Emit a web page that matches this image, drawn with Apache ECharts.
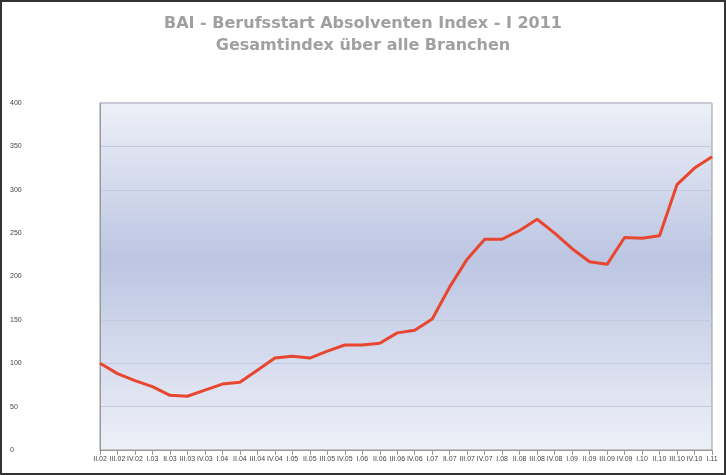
<!DOCTYPE html>
<html><head><meta charset="utf-8">
<script src="https://cdn.jsdelivr.net/npm/echarts@6/dist/echarts.min.js"></script>
<style>html,body{margin:0;padding:0;background:#fff}#c{width:726px;height:475px;box-sizing:border-box;border:2px solid #333}</style>
</head><body><div id="c"></div>
<script>
const categories = ["II.02","III.02","IV.02","I.03","II.03","III.03","IV.03","I.04","II.04","III.04","IV.04","I.05","II.05","III.05","IV.05","I.06","II.06","III.06","IV.06","I.07","II.07","III.07","IV.07","I.08","II.08","III.08","IV.08","I.09","II.09","III.09","IV.09","I.10","II.10","III.10","IV.10","I.11"];
const values = [100,88,80,73,63,62,69,76,78,92,106,108,106,114,121,121,123,135,138,151,188,220,243,243,253,266,250,232,217,214,245,244,247,306,325,338];
const yTicks = {min:0,max:400,interval:50};
const chart = echarts.init(document.getElementById('c'));
chart.setOption({
  animation:false,
  title:{text:'BAI - Berufsstart Absolventen Index - I 2011\nGesamtindex über alle Branchen',left:'center',top:6,
    textStyle:{color:'#a0a0a0',fontSize:16,fontWeight:'bold',lineHeight:22,fontFamily:'DejaVu Sans'}},
  grid:{left:98,right:12,top:101,bottom:23,
    show:true,borderColor:'#999',borderWidth:1,
    backgroundColor:{type:'linear',x:0,y:0,x2:0,y2:1,colorStops:[{offset:0,color:'#eef0f8'},{offset:0.45,color:'#bcc6e3'},{offset:1,color:'#eef0f8'}]}},
  xAxis:{type:'category',data:categories,boundaryGap:false,
    axisLine:{lineStyle:{color:'#999'}},axisTick:{show:true,lineStyle:{color:'#999'}},
    axisLabel:{interval:0,fontSize:7,color:'#444',margin:6}},
  yAxis:{type:'value',min:yTicks.min,max:yTicks.max,interval:yTicks.interval,
    axisLine:{show:true,lineStyle:{color:'#999'}},
    axisLabel:{fontSize:7,color:'#444',margin:90,align:'left'},
    splitLine:{lineStyle:{color:'#c3c9df'}}},
  series:[{type:'line',data:values,symbol:'none',lineStyle:{color:'#e8462f',width:3}}]
});
</script></body></html>
